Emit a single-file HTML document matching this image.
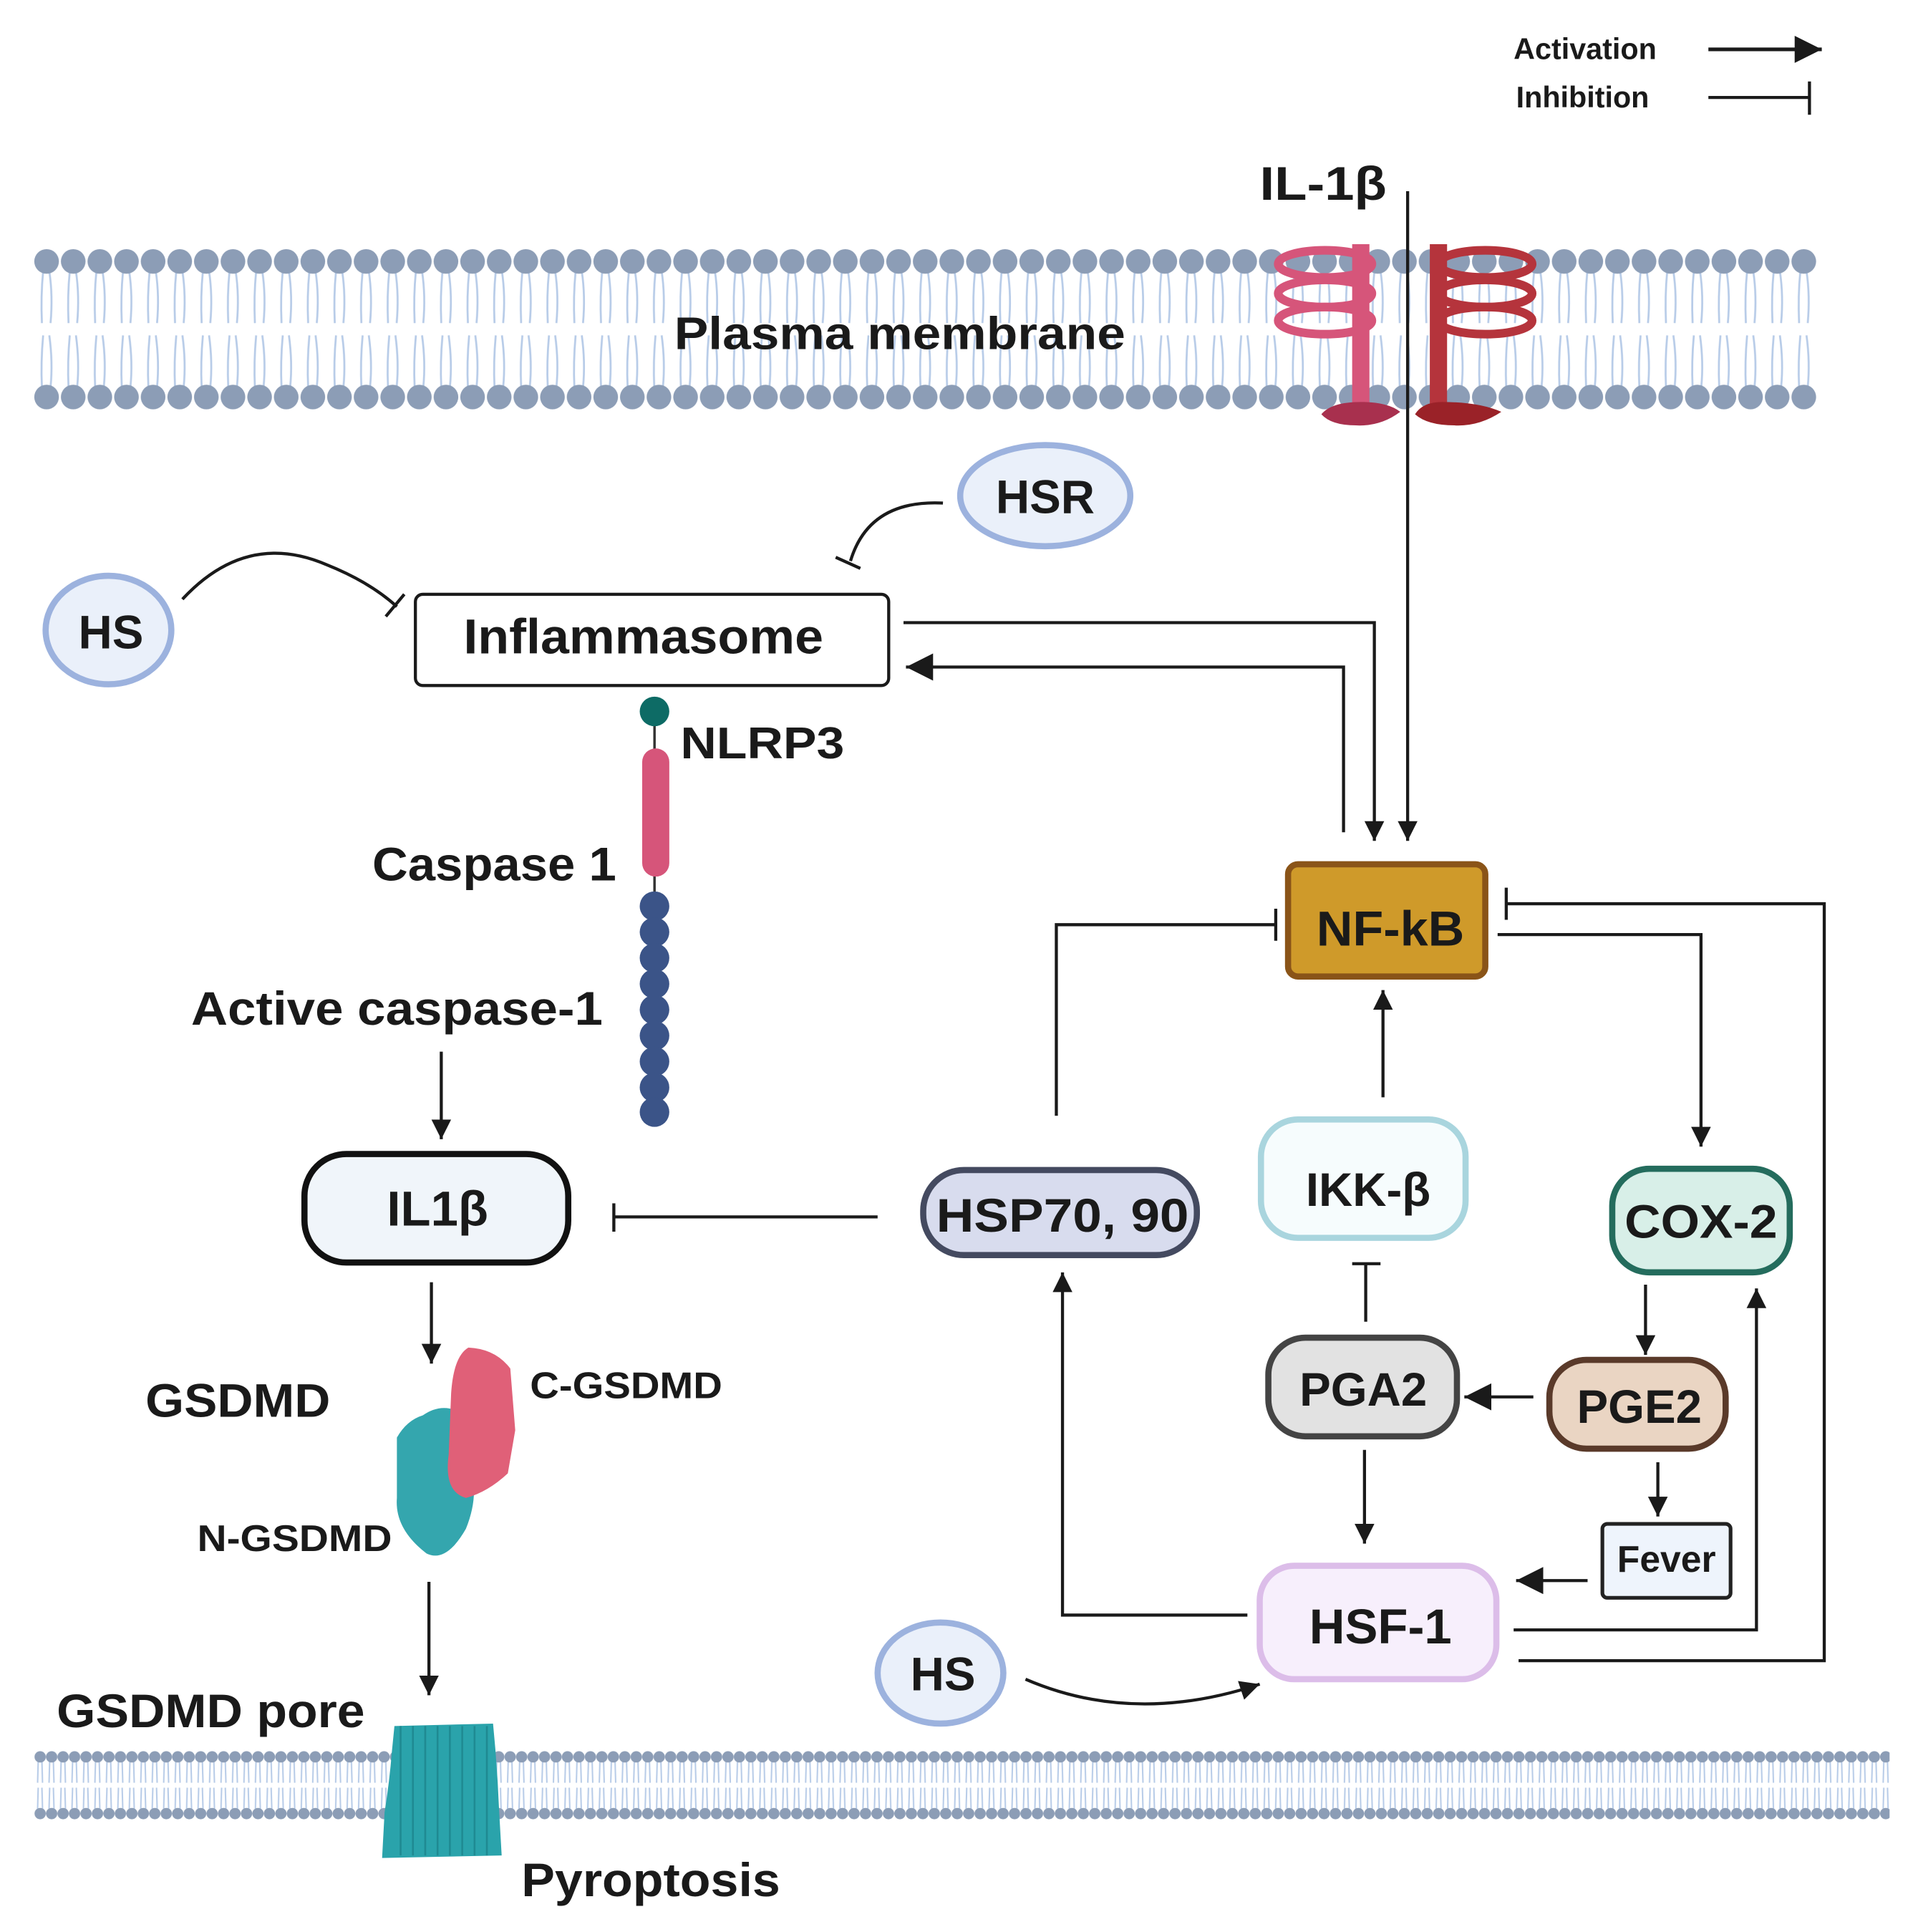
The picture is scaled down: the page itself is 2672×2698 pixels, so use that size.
<!DOCTYPE html>
<html><head><meta charset="utf-8"><style>
html,body{margin:0;padding:0;background:#fff}
svg{display:block}
text{font-family:"Liberation Sans",sans-serif;font-weight:bold;fill:#1a1a1a}
</style></head><body>
<svg width="2672" height="2698" viewBox="0 0 1552 1567" xmlns="http://www.w3.org/2000/svg">
<defs>
<marker id="a" markerUnits="userSpaceOnUse" markerWidth="20" markerHeight="20" refX="16" refY="8" orient="auto"><path d="M0,0 L16,8 L0,16 Z" fill="#1a1a1a"/></marker>
<marker id="aL" markerUnits="userSpaceOnUse" markerWidth="26" markerHeight="26" refX="22" refY="11" orient="auto"><path d="M0,0 L22,11 L0,22 Z" fill="#1a1a1a"/></marker>
<pattern id="mem" patternUnits="userSpaceOnUse" x="27" y="200" width="21.6" height="134">
<g stroke="#b8cce8" stroke-width="1.6" fill="none">
<path d="M8,20 Q6,40 7,62 M13,20 Q16,40 14,62"/>
<path d="M8,72 Q6,94 7,114 M13,72 Q16,94 14,114"/>
</g>
<circle cx="10.8" cy="12" r="10" fill="#8c9db6"/>
<circle cx="10.8" cy="122" r="10" fill="#8c9db6"/>
</pattern>
<pattern id="mem2" patternUnits="userSpaceOnUse" x="28" y="1419" width="9.3" height="58">
<g stroke="#b8cce8" stroke-width="1.2" fill="none">
<path d="M3,10 L2.5,27 M6,10 L6.5,27 M3,31 L2.5,48 M6,31 L6.5,48"/>
</g>
<circle cx="4.6" cy="6" r="4.6" fill="#8c9db6"/>
<circle cx="4.6" cy="52" r="4.6" fill="#8c9db6"/>
</pattern>
</defs>

<!-- Legend -->
<text x="1228" y="48" font-size="24">Activation</text>
<line x1="1386" y1="40" x2="1478" y2="40" stroke="#1a1a1a" stroke-width="3" marker-end="url(#aL)"/>
<text x="1230" y="87" font-size="24">Inhibition</text>
<line x1="1386" y1="79" x2="1468" y2="79" stroke="#1a1a1a" stroke-width="2.5"/>
<line x1="1468" y1="66" x2="1468" y2="93" stroke="#1a1a1a" stroke-width="2.5"/>

<!-- top membrane -->
<rect x="27" y="200" width="1447" height="134" fill="url(#mem)"/>
<text x="730" y="283" font-size="37" text-anchor="middle" textLength="366" lengthAdjust="spacingAndGlyphs">Plasma membrane</text>

<!-- receptors -->
<g fill="none" stroke="#d6557a" stroke-width="7">
<ellipse cx="1075" cy="214" rx="38" ry="11"/>
<ellipse cx="1075" cy="238" rx="38" ry="11"/>
<ellipse cx="1075" cy="260" rx="38" ry="11"/>
</g>
<rect x="1097" y="198" width="14" height="132" fill="#d6557a"/>
<path d="M1072,336 Q1080,326 1104,326 Q1126,326 1136,334 Q1120,346 1100,345 Q1080,345 1072,336Z" fill="#a8304e"/>
<g fill="none" stroke="#b5343c" stroke-width="7">
<ellipse cx="1205" cy="214" rx="38" ry="11"/>
<ellipse cx="1205" cy="238" rx="38" ry="11"/>
<ellipse cx="1205" cy="260" rx="38" ry="11"/>
</g>
<rect x="1160" y="198" width="14" height="132" fill="#b5343c"/>
<path d="M1148,336 Q1154,326 1170,326 Q1200,326 1218,334 Q1200,346 1180,345 Q1158,345 1148,336Z" fill="#9a2228"/>

<!-- IL-1beta -->
<text x="1022" y="162" font-size="38" textLength="103" lengthAdjust="spacingAndGlyphs">IL-1β</text>
<line x1="1142" y1="155" x2="1142" y2="682" stroke="#1a1a1a" stroke-width="2.5" marker-end="url(#a)"/>

<!-- HSR -->
<ellipse cx="848" cy="402" rx="69" ry="41" fill="#eaf0fa" stroke="#9cb2de" stroke-width="5"/>
<text x="848" y="416" font-size="38" text-anchor="middle">HSR</text>
<path d="M765,408 Q705,405 690,455" fill="none" stroke="#1a1a1a" stroke-width="2.5"/>
<line x1="678" y1="452" x2="698" y2="461" stroke="#1a1a1a" stroke-width="2.5"/>

<!-- HS top -->
<ellipse cx="88" cy="511" rx="51" ry="44" fill="#eaf0fa" stroke="#9cb2de" stroke-width="5"/>
<text x="90" y="526" font-size="38" text-anchor="middle">HS</text>
<path d="M148,486 Q200,430 265,458 Q300,472 322,492" fill="none" stroke="#1a1a1a" stroke-width="2.5"/>
<line x1="313" y1="500" x2="328" y2="482" stroke="#1a1a1a" stroke-width="2.5"/>

<!-- Inflammasome -->
<rect x="337" y="482" width="384" height="74" rx="6" fill="#fff" stroke="#1a1a1a" stroke-width="2.5"/>
<text x="522" y="530" font-size="40" text-anchor="middle" textLength="292" lengthAdjust="spacingAndGlyphs">Inflammasome</text>
<polyline points="733,505 1115,505 1115,682" fill="none" stroke="#1a1a1a" stroke-width="2.5" marker-end="url(#a)"/>
<polyline points="1090,675 1090,541 735,541" fill="none" stroke="#1a1a1a" stroke-width="2.5" marker-end="url(#aL)"/>

<!-- NLRP3 / caspase -->
<line x1="531" y1="580" x2="531" y2="905" stroke="#333" stroke-width="2"/>
<circle cx="531" cy="577" r="12" fill="#0d6b65"/>
<rect x="521" y="607" width="22" height="104" rx="11" fill="#d6557a"/>
<g fill="#3b5488">
<circle cx="531" cy="735" r="12"/><circle cx="531" cy="756" r="12"/><circle cx="531" cy="777" r="12"/><circle cx="531" cy="798" r="12"/><circle cx="531" cy="819" r="12"/><circle cx="531" cy="840" r="12"/><circle cx="531" cy="861" r="12"/><circle cx="531" cy="882" r="12"/><circle cx="531" cy="902" r="12"/>
</g>
<text x="552" y="615" font-size="36" textLength="133" lengthAdjust="spacingAndGlyphs">NLRP3</text>
<text x="302" y="714" font-size="38" textLength="198" lengthAdjust="spacingAndGlyphs">Caspase 1</text>
<text x="155" y="831" font-size="38" textLength="334" lengthAdjust="spacingAndGlyphs">Active caspase-1</text>
<line x1="358" y1="853" x2="358" y2="924" stroke="#1a1a1a" stroke-width="2.5" marker-end="url(#a)"/>

<!-- IL1b box -->
<rect x="247" y="936" width="214" height="88" rx="34" fill="#f0f5fa" stroke="#111" stroke-width="5"/>
<text x="355" y="994" font-size="40" text-anchor="middle">IL1β</text>
<line x1="712" y1="987" x2="498" y2="987" stroke="#1a1a1a" stroke-width="2.5"/>
<line x1="498" y1="976" x2="498" y2="999" stroke="#1a1a1a" stroke-width="2.5"/>

<!-- HSP70,90 -->
<rect x="749" y="949" width="222" height="69" rx="33" fill="#d8dcee" stroke="#444a60" stroke-width="5"/>
<text x="862" y="999" font-size="38" text-anchor="middle" textLength="205" lengthAdjust="spacingAndGlyphs">HSP70, 90</text>
<polyline points="857,905 857,750 1035,750" fill="none" stroke="#1a1a1a" stroke-width="2.5"/>
<line x1="1035" y1="737" x2="1035" y2="763" stroke="#1a1a1a" stroke-width="2.5"/>

<!-- NF-kB -->
<rect x="1045" y="701" width="160" height="91" rx="8" fill="#cf9a2a" stroke="#8a5418" stroke-width="5"/>
<text x="1128" y="767" font-size="40" text-anchor="middle" textLength="120" lengthAdjust="spacingAndGlyphs">NF-kB</text>
<line x1="1122" y1="890" x2="1122" y2="803" stroke="#1a1a1a" stroke-width="2.5" marker-end="url(#a)"/>
<polyline points="1215,758 1380,758 1380,930" fill="none" stroke="#1a1a1a" stroke-width="2.5" marker-end="url(#a)"/>
<polyline points="1222,733 1480,733 1480,1347 1232,1347" fill="none" stroke="#1a1a1a" stroke-width="2.5"/>
<line x1="1222" y1="720" x2="1222" y2="746" stroke="#1a1a1a" stroke-width="2.5"/>

<!-- IKK -->
<rect x="1023" y="908" width="166" height="96" rx="30" fill="#f6fcfd" stroke="#a9d5de" stroke-width="5"/>
<text x="1110" y="978" font-size="38" text-anchor="middle">IKK-β</text>
<line x1="1108" y1="1072" x2="1108" y2="1025" stroke="#1a1a1a" stroke-width="2.5"/>
<line x1="1097" y1="1025" x2="1120" y2="1025" stroke="#1a1a1a" stroke-width="2.5"/>

<!-- COX-2 -->
<rect x="1308" y="948" width="144" height="84" rx="30" fill="#d8efe8" stroke="#246c5d" stroke-width="5"/>
<text x="1380" y="1004" font-size="38" text-anchor="middle" textLength="124" lengthAdjust="spacingAndGlyphs">COX-2</text>
<line x1="1335" y1="1042" x2="1335" y2="1099" stroke="#1a1a1a" stroke-width="2.5" marker-end="url(#a)"/>

<!-- PGE2 -->
<rect x="1257" y="1103" width="143" height="72" rx="30" fill="#ead5c3" stroke="#5a3a2a" stroke-width="5"/>
<text x="1330" y="1154" font-size="38" text-anchor="middle">PGE2</text>
<line x1="1244" y1="1133" x2="1188" y2="1133" stroke="#1a1a1a" stroke-width="2.5" marker-end="url(#aL)"/>

<!-- PGA2 -->
<rect x="1029" y="1085" width="153" height="80" rx="30" fill="#e2e2e2" stroke="#444" stroke-width="5"/>
<text x="1106" y="1140" font-size="38" text-anchor="middle">PGA2</text>
<line x1="1107" y1="1176" x2="1107" y2="1252" stroke="#1a1a1a" stroke-width="2.5" marker-end="url(#a)"/>
<line x1="1345" y1="1186" x2="1345" y2="1230" stroke="#1a1a1a" stroke-width="2.5" marker-end="url(#a)"/>

<!-- Fever -->
<rect x="1300" y="1236" width="104" height="60" rx="4" fill="#eef4fc" stroke="#222" stroke-width="3"/>
<text x="1352" y="1275" font-size="30" text-anchor="middle">Fever</text>
<line x1="1288" y1="1282" x2="1230" y2="1282" stroke="#1a1a1a" stroke-width="2.5" marker-end="url(#aL)"/>

<!-- HSF-1 -->
<rect x="1022" y="1270" width="192" height="92" rx="28" fill="#f7effc" stroke="#dcbde9" stroke-width="5"/>
<text x="1120" y="1333" font-size="40" text-anchor="middle">HSF-1</text>
<polyline points="1012,1310 862,1310 862,1032" fill="none" stroke="#1a1a1a" stroke-width="2.5" marker-end="url(#a)"/>
<polyline points="1228,1322 1425,1322 1425,1045" fill="none" stroke="#1a1a1a" stroke-width="2.5" marker-end="url(#a)"/>

<!-- HS bottom -->
<ellipse cx="763" cy="1357" rx="51" ry="41" fill="#eaf0fa" stroke="#9cb2de" stroke-width="5"/>
<text x="765" y="1371" font-size="38" text-anchor="middle">HS</text>
<path d="M832,1362 Q920,1400 1022,1366" fill="none" stroke="#1a1a1a" stroke-width="2.5" marker-end="url(#a)"/>

<!-- GSDMD -->
<line x1="350" y1="1040" x2="350" y2="1106" stroke="#1a1a1a" stroke-width="2.5" marker-end="url(#a)"/>
<text x="118" y="1149" font-size="38" textLength="150" lengthAdjust="spacingAndGlyphs">GSDMD</text>
<text x="430" y="1134" font-size="30" textLength="156" lengthAdjust="spacingAndGlyphs">C-GSDMD</text>
<text x="160" y="1258" font-size="30" textLength="158" lengthAdjust="spacingAndGlyphs">N-GSDMD</text>
<path d="M343,1148 Q360,1136 378,1148 L376,1180 Q392,1205 378,1240 Q362,1268 346,1260 Q320,1240 322,1215 L322,1166 Q330,1152 343,1148Z" fill="#34a6ae"/>
<path d="M380,1093 Q402,1094 414,1110 L418,1160 L412,1195 Q396,1210 378,1215 Q360,1210 364,1180 L366,1130 Q368,1100 380,1093Z" fill="#e06078"/>

<line x1="348" y1="1283" x2="348" y2="1375" stroke="#1a1a1a" stroke-width="2.5" marker-end="url(#a)"/>
<text x="46" y="1401" font-size="38" textLength="250" lengthAdjust="spacingAndGlyphs">GSDMD pore</text>

<!-- bottom membrane -->
<rect x="28" y="1419" width="1505" height="58" fill="url(#mem2)"/>
<!-- pore -->
<path d="M320,1400 L400,1398 L402,1420 Q404,1445 405,1470 L407,1505 L310,1507 L312,1470 Q316,1445 318,1420 Z" fill="#2aa3ab"/>
<g stroke="#1f8a92" stroke-width="1.5" fill="none">
<path d="M325,1400 V1505 M335,1400 V1505 M345,1400 V1505 M355,1400 V1505 M365,1400 V1505 M375,1400 V1505 M385,1400 V1505 M395,1400 V1505"/>
</g>
<text x="423" y="1538" font-size="38" textLength="210" lengthAdjust="spacingAndGlyphs">Pyroptosis</text>
</svg>
</body></html>
